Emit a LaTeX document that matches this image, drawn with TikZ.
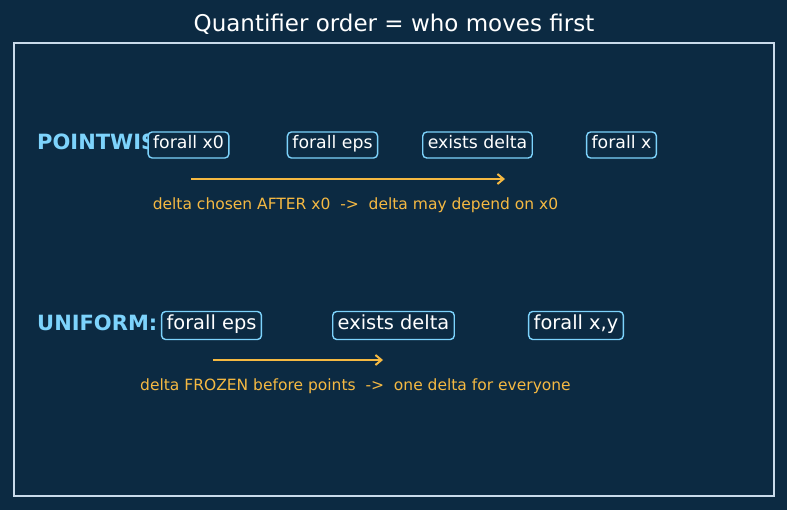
\documentclass[tikz,border=0pt]{standalone}
\usepackage{fontspec}
\setmainfont{DejaVu Sans}
\usetikzlibrary{arrows.meta}
\definecolor{bg}{HTML}{0C2A42}
\definecolor{frame}{HTML}{C9DAEA}
\definecolor{qblue}{HTML}{7DD3FC}
\definecolor{qorange}{HTML}{F5B942}
\tikzset{
  qbox/.style={draw=qblue, fill=bg, line width=1.4pt, rounded corners=4pt, text=white, inner xsep=5pt, inner ysep=4.5pt},
  qsmall/.style={qbox, font=\fontsize{17.3}{20}\selectfont, text height=12pt, text depth=5pt},
  qbig/.style={qbox, font=\fontsize{19.4}{22}\selectfont, text height=13.5pt, text depth=5.5pt},
  qlabel/.style={text=qblue, anchor=west, font=\bfseries\fontsize{21}{24}\selectfont, inner sep=0pt},
  qcap/.style={text=qorange, font=\fontsize{15.5}{18}\selectfont, inner sep=0pt},
  qarrow/.style={draw=qorange, line width=2pt, -{Straight Barb[length=6pt,width=10pt]}}
}
\begin{document}
\begin{tikzpicture}[x=1pt,y=-1pt]
\fill[bg] (0,0) rectangle (787,510);
\useasboundingbox (0,0) rectangle (787,510);
\node[text=white, font=\fontsize{23}{26}\selectfont] (title) at (394,24) {Quantifier order = who moves first};
\draw[frame, line width=1.3pt] (14,43) rectangle (774,496);
% pointwise row
\node[qlabel] (lp) at (37,142) {POINTWISE:};
\node[qsmall] (p1) at (188.5,145) {forall x0};
\node[qsmall] (p2) at (332.5,145) {forall eps};
\node[qsmall] (p3) at (477.5,145) {exists delta};
\node[qsmall] (p4) at (621.5,145) {forall x};
\coordinate (pa) at (191,179);
\coordinate (pb) at (505,179);
\draw[qarrow] (pa) -- (pb);
\node[qcap] (pc) at (355.5,205) {delta chosen AFTER x0 \ ->\ \ delta may depend on x0};
% uniform row
\node[qlabel] (lu) at (37,323) {UNIFORM:};
\node[qbig] (u1) at (211.5,325.5) {forall eps};
\node[qbig] (u2) at (393.5,325.5) {exists delta};
\node[qbig] (u3) at (576,325.5) {forall x,y};
\coordinate (ua) at (213,360);
\coordinate (ub) at (383,360);
\draw[qarrow] (ua) -- (ub);
\node[qcap] (uc) at (355.5,386) {delta FROZEN before points \ ->\ \ one delta for everyone};
\end{tikzpicture}
\end{document}
